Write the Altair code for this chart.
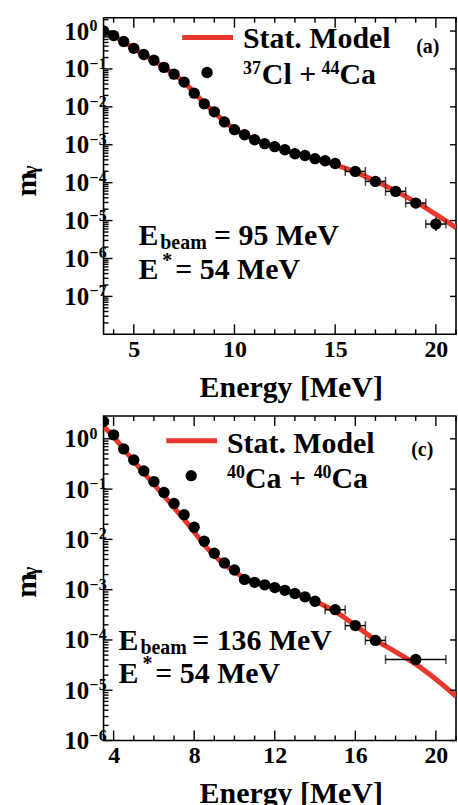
import math

import altair as alt
import pandas as pd

FONT = "Liberation Serif"
RED = "#e8382c"

# ---------------- (a) 37Cl + 44Ca, E_beam = 95 MeV ----------------
a_energy = [3.5, 4.0, 4.5, 5.0, 5.5, 6.0, 6.5, 7.0, 7.5, 8.0, 8.5, 9.0, 9.5, 10.0,
            10.5, 11.0, 11.5, 12.0, 12.5, 13.0, 13.5, 14.0, 14.5, 15.0,
            16.0, 17.0, 18.0, 19.0, 20.0]
a_m = [1.0, 0.76, 0.53, 0.35, 0.24, 0.17, 0.11, 0.073, 0.045, 0.023, 0.012, 0.0074, 0.0040, 0.0025,
       0.00184, 0.00136, 0.00107, 0.00089, 0.00074, 0.00058, 0.00052, 0.00043, 0.00038, 0.00032,
       1.98e-4, 1.08e-4, 5.9e-5, 2.9e-5, 8.1e-6]
a_bar_energy = [16.0, 17.0, 18.0, 19.0, 20.0]
a_bar_half_width = [0.5, 0.5, 0.5, 0.5, 0.5]
a_bar_low = [1.8e-4, 9.7e-5, 5.2e-5, 2.4e-5, 5.3e-6]
a_bar_high = [2.2e-4, 1.2e-4, 6.7e-5, 3.5e-5, 1.2e-5]
a_model_energy = [3.5, 4, 4.5, 5, 5.5, 6, 6.5, 7, 7.5, 8, 8.5, 9, 9.5, 10, 10.5, 11,
                  12, 13, 14, 15, 16, 17, 18, 19, 20, 21]
a_model_m = [1.0, 0.74, 0.52, 0.35, 0.24, 0.165, 0.11, 0.072, 0.044, 0.024, 0.0125, 0.0072,
             0.0041, 0.0026, 0.0018, 0.0014, 9.0e-4, 6.0e-4, 4.3e-4, 3.0e-4, 1.9e-4,
             1.1e-4, 6.0e-5, 3.1e-5, 1.45e-5, 6.5e-6]

# ---------------- (c) 40Ca + 40Ca, E_beam = 136 MeV ----------------
c_energy = [3.5, 4.0, 4.5, 5.0, 5.5, 6.0, 6.5, 7.0, 7.5, 8.0, 8.5, 9.0, 9.5, 10.0,
            10.5, 11.0, 11.5, 12.0, 12.5, 13.0, 13.5, 14.0,
            15.0, 16.0, 17.0, 19.0]
c_m = [2.2, 1.2, 0.63, 0.38, 0.23, 0.141, 0.086, 0.052, 0.031, 0.0174, 0.0092, 0.0053, 0.0034, 0.00246,
       0.0016, 0.0014, 0.00125, 0.0011, 0.00097, 0.00084, 0.00072, 0.00059,
       4.0e-4, 1.93e-4, 9.8e-5, 4.1e-5]
c_bar_energy = [15.0, 16.0, 17.0, 19.0]
c_bar_half_width = [0.5, 0.5, 0.5, 1.5]
c_bar_low = [3.6e-4, 1.75e-4, 8.9e-5, 3.7e-5]
c_bar_high = [4.4e-4, 2.1e-4, 1.08e-4, 4.5e-5]
c_model_energy = [3.5, 4, 4.5, 5, 5.5, 6, 6.5, 7, 7.5, 8, 8.5, 9, 9.5, 10, 10.5, 11,
                  12, 13, 14, 15, 16, 17, 18, 19, 20, 21]
c_model_m = [1.75, 1.1, 0.62, 0.36, 0.21, 0.125, 0.074, 0.043, 0.025, 0.014, 0.0078, 0.0048,
             0.0032, 0.0023, 0.0017, 0.00145, 0.00112, 8.6e-4, 5.9e-4, 3.7e-4, 1.95e-4,
             1.0e-4, 5.8e-5, 3.3e-5, 1.65e-5, 7.6e-6]

X_DOMAIN = [3.5, 21.0]
PLOT_W = 354
MARKER = 130


def text(s, x, y, size, angle=0, align="left"):
    return alt.Chart(pd.DataFrame({"t": [s]})).mark_text(
        font=FONT, fontWeight="bold", fontSize=size, align=align,
        baseline="alphabetic", angle=angle, color="black"
    ).encode(x=alt.value(x), y=alt.value(y), text="t:N")


def inward_ticks(values, scale, side, length, width, height):
    """Frame ticks pointing into the plot, placed through the panel's scales."""
    base = alt.Chart(pd.DataFrame({"v": values})).mark_rule(color="black", strokeWidth=1.4)
    if side in ("left", "right"):
        x0, x1 = (0, length) if side == "left" else (width - length, width)
        return base.encode(y=alt.Y("v:Q", scale=scale, axis=None),
                           x=alt.value(x0), x2=alt.value(x1))
    y0, y1 = (0, length) if side == "top" else (height - length, height)
    return base.encode(x=alt.X("v:Q", scale=scale, axis=None),
                       y=alt.value(y0), y2=alt.value(y1))


def panel(energy, m, bar_e, bar_hw, bar_lo, bar_hi, model_e, model_m,
          y_domain, height, x_major, x_minor, decades, annotations):
    pts = pd.DataFrame({"e": energy, "m": m})
    lookup = dict(zip(energy, m))
    bars = pd.DataFrame({
        "e": bar_e,
        "m": [lookup[e] for e in bar_e],
        "e_lo": [e - w for e, w in zip(bar_e, bar_hw)],
        "e_hi": [e + w for e, w in zip(bar_e, bar_hw)],
        "m_lo": bar_lo,
        "m_hi": bar_hi,
    })
    model = pd.DataFrame({"e": model_e, "m": model_m})

    xs = alt.Scale(domain=X_DOMAIN, nice=False, zero=False)
    ys = alt.Scale(type="log", domain=y_domain, nice=False)

    minor_y = [k * d for d in decades + [decades[0] / 10] for k in range(2, 10)
               if y_domain[0] <= k * d <= y_domain[1]]
    minor_x = [v for v in x_minor if v not in x_major]
    exps = pd.DataFrame({
        "m": decades,
        "lab": ["0" if d == 1 else "\u2212" + str(round(-math.log10(d))) for d in decades],
    })

    label_x = alt.Axis(orient="bottom", values=x_major, format="d", labelFont=FONT,
                       labelFontSize=24, labelFontWeight="bold", labelColor="black",
                       labelPadding=3, labelFlush=False, labelOverlap=False,
                       ticks=False, tickSize=0, domain=False, grid=False,
                       title="Energy [MeV]", titleFont=FONT, titleFontSize=30,
                       titleFontWeight="bold", titleColor="black", titleX=188,
                       titleY=62, titleAlign="center", titleBaseline="alphabetic")
    label_y = alt.Axis(orient="left", values=decades, labelExpr="'10'", labelFont=FONT,
                       labelFontSize=25, labelFontWeight="bold", labelColor="black",
                       labelPadding=15, labelFlush=False, labelOverlap=False,
                       labelBaseline="middle", ticks=False, tickSize=0, domain=False,
                       grid=False, title=None)

    model_line = alt.Chart(model).mark_line(
        color=RED, strokeWidth=5, clip=True, interpolate="monotone"
    ).encode(x=alt.X("e:Q", scale=xs, axis=label_x),
             y=alt.Y("m:Q", scale=ys, axis=label_y))

    xbars = alt.Chart(bars).mark_rule(color="black", strokeWidth=1.5).encode(
        x=alt.X("e_lo:Q", scale=xs, axis=None), x2="e_hi:Q",
        y=alt.Y("m:Q", scale=ys, axis=None))
    ybars = alt.Chart(bars).mark_rule(color="black", strokeWidth=1.5).encode(
        x=alt.X("e:Q", scale=xs, axis=None),
        y=alt.Y("m_lo:Q", scale=ys, axis=None), y2="m_hi:Q")
    caps_lo = alt.Chart(bars).mark_tick(orient="vertical", color="black", size=9,
                                        thickness=1.5).encode(
        x=alt.X("e_lo:Q", scale=xs, axis=None), y=alt.Y("m:Q", scale=ys, axis=None))
    caps_hi = alt.Chart(bars).mark_tick(orient="vertical", color="black", size=9,
                                        thickness=1.5).encode(
        x=alt.X("e_hi:Q", scale=xs, axis=None), y=alt.Y("m:Q", scale=ys, axis=None))
    points = alt.Chart(pts).mark_circle(color="black", opacity=1, size=MARKER,
                                        clip=True).encode(
        x=alt.X("e:Q", scale=xs, axis=None), y=alt.Y("m:Q", scale=ys, axis=None))

    exponents = alt.Chart(exps).mark_text(
        font=FONT, fontWeight="bold", fontSize=16, align="left", baseline="alphabetic",
        color="black"
    ).encode(x=alt.value(-14), y=alt.Y("m:Q", scale=ys, axis=None), text="lab:N")

    ticks = [
        inward_ticks(decades, ys, "left", 9, PLOT_W, height),
        inward_ticks(minor_y, ys, "left", 5, PLOT_W, height),
        inward_ticks(decades, ys, "right", 6, PLOT_W, height),
        inward_ticks(x_major, xs, "bottom", 10, PLOT_W, height),
        inward_ticks(minor_x, xs, "bottom", 5, PLOT_W, height),
        inward_ticks(x_major, xs, "top", 10, PLOT_W, height),
        inward_ticks(minor_x, xs, "top", 5, PLOT_W, height),
    ]

    lx0, lx1, ly = annotations["line"]
    legend_line = alt.Chart(pd.DataFrame({"k": [0]})).mark_rule(
        color=RED, strokeWidth=5
    ).encode(x=alt.value(lx0), x2=alt.value(lx1), y=alt.value(ly))
    legend_dot = alt.Chart(pd.DataFrame({"k": [0]})).mark_circle(
        color="black", opacity=1, size=MARKER
    ).encode(x=alt.value(annotations["dot"][0]), y=alt.value(annotations["dot"][1]))

    texts = [text(*a) for a in annotations["texts"]]

    layers = [model_line] + ticks + [xbars, ybars, caps_lo, caps_hi, points, exponents,
                                     legend_line, legend_dot] + texts
    return alt.layer(*layers).resolve_axis(x="independent", y="independent").properties(
        width=PLOT_W, height=height)


top = panel(
    a_energy, a_m, a_bar_energy, a_bar_half_width, a_bar_low, a_bar_high,
    a_model_energy, a_model_m,
    y_domain=[1e-8, 2.25], height=318,
    x_major=[5, 10, 15, 20], x_minor=list(range(4, 22)),
    decades=[1e-7, 1e-6, 1e-5, 1e-4, 1e-3, 1e-2, 1e-1, 1.0],
    annotations={
        "line": (79, 130, 20),
        "dot": (104, 55),
        "texts": [
            ("Stat. Model", 140, 30, 30),
            ("(a)", 314, 35, 20),
            ("37", 140, 57, 18),
            ("Cl +", 159, 67, 30),
            ("44", 219, 57, 18),
            ("Ca", 237, 67, 30),
            ("E", 35, 228, 30),
            ("beam", 57, 232, 20),
            ("= 95 MeV", 111, 228, 30),
            ("E", 35, 262, 30),
            ("*", 59, 250, 20),
            ("= 54 MeV", 72, 262, 30),
            ("m", -68, 167, 30, 270, "center"),
            ("\u03b3", -67, 153, 20, 270, "center"),
        ],
    },
)

bottom = panel(
    c_energy, c_m, c_bar_energy, c_bar_half_width, c_bar_low, c_bar_high,
    c_model_energy, c_model_m,
    y_domain=[1e-6, 2.85], height=326,
    x_major=[4, 8, 12, 16, 20], x_minor=list(range(4, 22)),
    decades=[1e-6, 1e-5, 1e-4, 1e-3, 1e-2, 1e-1, 1.0],
    annotations={
        "line": (63, 114, 25),
        "dot": (88, 60),
        "texts": [
            ("Stat. Model", 124, 37, 30),
            ("(c)", 309, 40, 20),
            ("40", 124, 62, 18),
            ("Ca +", 142, 72, 30),
            ("40", 211, 62, 18),
            ("Ca", 229, 72, 30),
            ("E", 15, 235, 30),
            ("beam", 37, 239, 20),
            ("= 136 MeV", 89, 235, 30),
            ("E", 15, 268, 30),
            ("*", 39, 255, 20),
            ("= 54 MeV", 52, 268, 30),
            ("m", -68, 170, 30, 270, "center"),
            ("\u03b3", -67, 156, 20, 270, "center"),
        ],
    },
)

chart = alt.vconcat(top, bottom, spacing=82, bounds="flush").properties(
    padding={"left": 11, "top": 14, "right": 0, "bottom": 0}
).configure_view(stroke="black", strokeWidth=1.6)

chart.save("out.html", embed_options={"renderer": "svg", "actions": False})
